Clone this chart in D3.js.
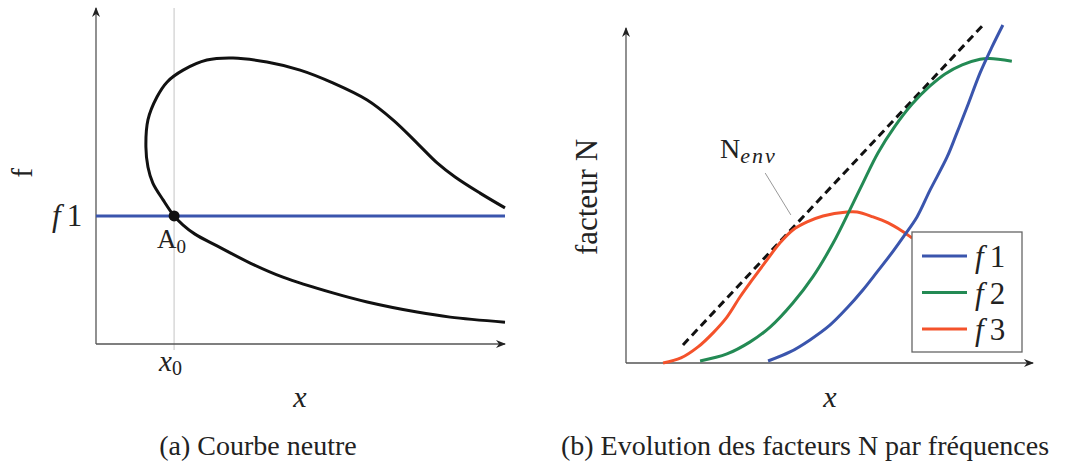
<!DOCTYPE html>
<html>
<head>
<meta charset="utf-8">
<script src="https://cdn.jsdelivr.net/npm/d3@7"></script>
<style>
  body { margin: 0; background: #fff; }
  svg { display: block; }
</style>
</head>
<body>
<div id="chart"></div>
<script>
// neutral curve (panel a), units 0..100
const neutralCurve = [
  [100, 40.5], [93.9, 44.9], [87.8, 49.7], [83.4, 53.9], [78.5, 59.8], [72.6, 66.7], [66.3, 72.6],
  [57.9, 77.7], [49.9, 81.5], [41.8, 83.9], [33.5, 85.1], [27.1, 84.5], [21.3, 81.5],
  [17.4, 78.0], [14.9, 73.5], [12.7, 66.7], [12.2, 58.6], [12.7, 52.7], [13.9, 47.9],
  [16.4, 42.9], [19.1, 38.1], [21.3, 35.4], [24.2, 32.7], [29.6, 29.2], [37.7, 24.1], [45.7, 19.9],
  [57.9, 15.2], [66.3, 12.5], [78.5, 9.5], [86.6, 8.0], [100, 6.5]
]
const f1Level = 38.1
const x0Value = 19.1

// N factors per frequency (panel b)
const seriesNames = ['f1', 'f2', 'f3']
const seriesColors = ['#3a55ad', '#238a54', '#f4522b']
const f1Values = [
  [34.9, 0.6], [40.3, 3.3], [45.2, 6.9], [50.1, 11.3], [54.3, 16.4], [58.2, 21.8],
  [61.7, 27.2], [64.9, 32.2], [68.1, 37.6], [71.5, 43.6], [74.7, 51.6], [78.9, 61.5],
  [81.3, 68.7], [83.8, 76.4], [87.0, 86.6], [89.9, 94.3], [92.6, 100.9]
]
const f2Values = [
  [18.2, 0.6], [24.8, 2.7], [30.5, 6.3], [35.4, 10.7], [41.0, 17.9], [45.9, 25.7],
  [50.9, 35.8], [55.0, 45.7], [58.2, 53.7], [61.9, 62.7], [66.1, 70.7], [70.3, 77.3],
  [74.7, 82.7], [78.4, 86.3], [82.6, 89.0], [87.0, 90.7], [89.4, 90.9], [94.8, 90.1]
]
const f3Values = [
  [9.1, 0], [13.5, 1.5], [17.7, 4.8], [21.4, 9.0], [24.8, 13.7], [28.0, 19.7],
  [31.0, 24.8], [34.6, 30.7], [37.8, 35.8], [41.0, 39.7], [44.5, 42.1], [48.4, 43.9],
  [54.3, 45.1], [56.8, 45.1], [60.7, 43.6], [64.4, 41.8], [67.8, 39.4], [70.3, 37.3]
]
const envelope = [[14.0, 5.4], [87.5, 100.6]]
const envLeader = [[34.2, 56.7], [40.5, 44.2]]
const envLabelPos = [23.1, 61.2]

const captions = ['(a) Courbe neutre', '(b) Evolution des facteurs N par fréquences']

const width = 1072
const height = 471
const axisColor = '#555'
const serif = 'Liberation Serif, DejaVu Serif, serif'

const svg = d3.select('#chart').append('svg')
  .attr('width', width)
  .attr('height', height)
  .attr('font-family', serif)

const defs = svg.append('defs')
defs.append('marker')
  .attr('id', 'arrow')
  .attr('viewBox', '0 0 10 10')
  .attr('refX', 9)
  .attr('refY', 5)
  .attr('markerWidth', 10)
  .attr('markerHeight', 10)
  .attr('markerUnits', 'userSpaceOnUse')
  .attr('orient', 'auto')
  .append('path')
  .attr('d', 'M0,1 L10,5 L0,9 L3,5 Z')
  .attr('fill', '#222')

function drawAxes(g, x, y) {
  const [x0, x1] = x.range()
  const [y0, y1] = y.range()
  g.append('line')
    .attr('x1', x0).attr('y1', y0).attr('x2', x1).attr('y2', y0)
    .attr('stroke', axisColor).attr('stroke-width', 1.3)
    .attr('marker-end', 'url(#arrow)')
  g.append('line')
    .attr('x1', x0).attr('y1', y0).attr('x2', x0).attr('y2', y1)
    .attr('stroke', axisColor).attr('stroke-width', 1.3)
    .attr('marker-end', 'url(#arrow)')
}

// ---- panel a ----
const xa = d3.scaleLinear().domain([0, 100]).range([96, 505])
const ya = d3.scaleLinear().domain([0, 100]).range([344, 8])
const ga = svg.append('g')

ga.append('line')
  .attr('x1', xa(x0Value)).attr('x2', xa(x0Value))
  .attr('y1', ya(100)).attr('y2', ya(0) + 6)
  .attr('stroke', '#d8d8d8').attr('stroke-width', 1.5)

drawAxes(ga, xa, ya)

ga.append('line')
  .attr('x1', xa(0)).attr('x2', xa(100))
  .attr('y1', ya(f1Level)).attr('y2', ya(f1Level))
  .attr('stroke', seriesColors[0]).attr('stroke-width', 3)

const lineA = d3.line()
  .x(d => xa(d[0]))
  .y(d => ya(d[1]))
  .curve(d3.curveCatmullRom.alpha(0.5))

ga.append('path')
  .datum(neutralCurve)
  .attr('d', lineA)
  .attr('fill', 'none')
  .attr('stroke', '#111')
  .attr('stroke-width', 3)

ga.append('circle')
  .attr('cx', xa(x0Value)).attr('cy', ya(f1Level))
  .attr('r', 5.5).attr('fill', '#111')

const a0 = ga.append('text')
  .attr('x', xa(x0Value) - 17).attr('y', ya(f1Level) + 32)
  .attr('font-size', 27).attr('fill', '#222')
a0.append('tspan').text('A')
a0.append('tspan').attr('font-size', 19).attr('dy', 5).text('0')

const f1Lab = ga.append('text')
  .attr('x', 52).attr('y', ya(f1Level) + 10)
  .attr('font-size', 31).attr('fill', '#222')
f1Lab.append('tspan').attr('font-style', 'italic').text('f')
f1Lab.append('tspan').attr('dx', 6).text('1')

const x0Lab = ga.append('text')
  .attr('x', xa(x0Value) - 15).attr('y', 371)
  .attr('font-size', 29).attr('fill', '#222')
x0Lab.append('tspan').attr('font-style', 'italic').text('x')
x0Lab.append('tspan').attr('font-size', 20).attr('dy', 4).text('0')

ga.append('text')
  .attr('x', 300).attr('y', 407)
  .attr('text-anchor', 'middle')
  .attr('font-size', 30).attr('font-style', 'italic').attr('fill', '#222')
  .text('x')

ga.append('text')
  .attr('transform', 'translate(32,173) rotate(-90)')
  .attr('text-anchor', 'middle')
  .attr('font-size', 29).attr('fill', '#222')
  .text('f')

// ---- panel b ----
const xb = d3.scaleLinear().domain([0, 100]).range([626, 1033])
const yb = d3.scaleLinear().domain([0, 100]).range([363, 28])
const gb = svg.append('g')

drawAxes(gb, xb, yb)

const lineB = d3.line()
  .x(d => xb(d[0]))
  .y(d => yb(d[1]))
  .curve(d3.curveCatmullRom.alpha(0.5))

gb.append('path')
  .datum(envelope)
  .attr('d', lineB)
  .attr('fill', 'none')
  .attr('stroke', '#111')
  .attr('stroke-width', 3)
  .attr('stroke-dasharray', '8,5')

const seriesData = [f1Values, f2Values, f3Values]
// f3 first so f1 sits on top
;[2, 1, 0].forEach(i => {
  gb.append('path')
    .datum(seriesData[i])
    .attr('d', lineB)
    .attr('fill', 'none')
    .attr('stroke', seriesColors[i])
    .attr('stroke-width', 3)
})

gb.append('line')
  .attr('x1', xb(envLeader[0][0])).attr('y1', yb(envLeader[0][1]))
  .attr('x2', xb(envLeader[1][0])).attr('y2', yb(envLeader[1][1]))
  .attr('stroke', '#999').attr('stroke-width', 1)

const nenv = gb.append('text')
  .attr('x', xb(envLabelPos[0])).attr('y', yb(envLabelPos[1]))
  .attr('font-size', 28).attr('fill', '#222')
nenv.append('tspan').text('N')
nenv.append('tspan').attr('font-style', 'italic').attr('font-size', 22).attr('dy', 5).attr('letter-spacing', 2).text('env')

gb.append('text')
  .attr('x', 830).attr('y', 407)
  .attr('text-anchor', 'middle')
  .attr('font-size', 30).attr('font-style', 'italic').attr('fill', '#222')
  .text('x')

gb.append('text')
  .attr('transform', 'translate(597,197) rotate(-90)')
  .attr('text-anchor', 'middle')
  .attr('font-size', 31).attr('fill', '#222')
  .text('facteur N')

// legend
const legend = gb.append('g').attr('transform', 'translate(912,232)')
legend.append('rect')
  .attr('width', 110).attr('height', 120)
  .attr('fill', '#fff').attr('stroke', '#666').attr('stroke-width', 1.3)

seriesNames.forEach((name, i) => {
  const row = legend.append('g').attr('transform', `translate(0,${24 + i * 36.5})`)
  row.append('line')
    .attr('x1', 10).attr('x2', 55)
    .attr('stroke', seriesColors[i]).attr('stroke-width', 3)
  const t = row.append('text')
    .attr('x', 63).attr('y', 11)
    .attr('font-size', 31).attr('fill', '#222')
  t.append('tspan').attr('font-style', 'italic').text(name[0])
  t.append('tspan').attr('dx', 6).text(name.slice(1))
})

// captions
svg.append('text')
  .attr('x', 258).attr('y', 455)
  .attr('text-anchor', 'middle')
  .attr('font-size', 28).attr('fill', '#222')
  .text(captions[0])

svg.append('text')
  .attr('x', 805).attr('y', 455)
  .attr('text-anchor', 'middle')
  .attr('font-size', 28).attr('fill', '#222')
  .text(captions[1])
</script>
</body>
</html>
